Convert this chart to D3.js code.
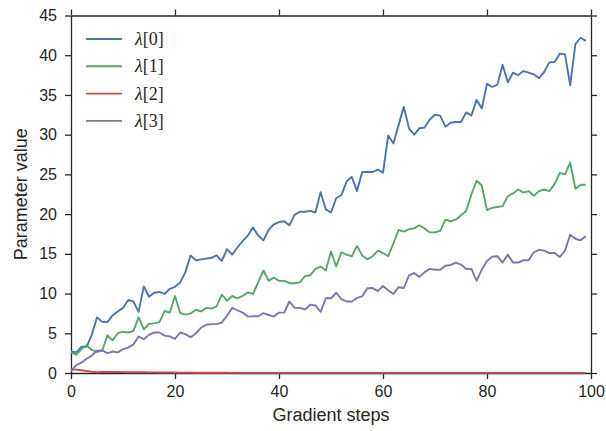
<!DOCTYPE html>
<html>
<head>
<meta charset="utf-8">
<script src="https://cdn.jsdelivr.net/npm/d3@7"></script>
<style>
  html, body { margin: 0; padding: 0; background: #ffffff; }
  svg { display: block; }
  text { font-family: "Liberation Sans", Arial, sans-serif; fill: #262626; }
</style>
</head>
<body>
<svg id="chart" width="606" height="431"></svg>
<script>
// Parameter trajectories over 100 gradient steps
const steps = d3.range(100);

const lambda0 = [
  2.7, 2.6, 3.3, 3.3, 4.8, 7.0, 6.45, 6.4, 7.25, 7.75,
  8.2, 9.2, 9.0, 7.7, 10.9, 9.6, 10.1, 10.2, 9.95, 10.6,
  10.85, 11.4, 12.7, 14.8, 14.2, 14.3, 14.4, 14.5, 14.8, 14.1,
  15.6, 14.9, 15.8, 16.6, 17.3, 18.3, 17.3, 16.7, 18.0, 18.7,
  19.0, 19.1, 18.6, 19.9, 20.3, 20.3, 20.4, 20.2, 22.75, 20.6,
  20.2, 22.0, 22.4, 24.1, 24.7, 22.9, 25.3, 25.3, 25.3, 25.6,
  25.2, 29.9, 28.9, 31.2, 33.5, 30.8, 30.0, 30.8, 30.9, 31.9,
  32.5, 32.4, 31.0, 31.5, 31.6, 31.6, 32.8, 32.4, 34.4, 33.3,
  36.4, 36.0, 36.3, 38.8, 36.6, 37.8, 37.5, 38.0, 37.8, 37.6,
  37.1, 37.9, 39.1, 39.15, 40.2, 40.1, 36.2, 41.4, 42.2, 41.8
];

const lambda1 = [
  2.6, 2.3, 3.0, 3.5, 2.9, 2.65, 2.8, 4.75, 4.1, 5.0,
  5.2, 5.1, 5.3, 7.0, 5.5, 6.2, 6.25, 6.4, 7.8, 7.6,
  9.7, 7.55, 7.35, 7.5, 7.96, 7.75, 8.2, 8.1, 8.4, 9.86,
  9.1, 9.7, 9.4, 9.7, 10.15, 9.95, 11.4, 12.9, 11.6, 12.0,
  11.6, 11.6, 11.3, 11.3, 11.4, 12.2, 12.3, 13.1, 13.4, 12.9,
  15.3, 13.4, 15.2, 14.9, 14.7, 16.0, 14.8, 14.3, 14.7, 15.4,
  15.1, 14.7, 16.3, 18.0, 17.8, 18.1, 18.2, 18.6, 18.2, 17.7,
  17.7, 17.9, 19.3, 19.1, 19.3, 19.85, 20.4, 22.5, 24.2, 23.6,
  20.5, 20.8, 20.9, 21.0, 22.25, 22.6, 23.1, 22.7, 22.9, 22.3,
  22.9, 23.1, 22.9, 23.8, 25.2, 25.0, 26.5, 23.2, 23.7, 23.7
];

const lambda2 = [
  0.45, 0.42, 0.35, 0.25, 0.15, 0.1, 0.12, 0.13, 0.12, 0.12,
  0.11, 0.1, 0.1, 0.09, 0.09, 0.08, 0.08, 0.07, 0.07, 0.06,
  0.06, 0.05, 0.05, 0.05, 0.04, 0.04, 0.04, 0.03, 0.03, 0.03,
  0.03, 0.02, 0.02, 0.02, 0.02, 0.02, 0.02, 0.01, 0.01, 0.01,
  0.01, 0.01, 0.01, 0.01, 0.01, 0.01, 0.01, 0.01, 0.01, 0.01,
  0.01, 0.01, 0.01, 0.01, 0.01, 0.01, 0.01, 0.01, 0.01, 0.01,
  0.01, 0.01, 0.01, 0.01, 0.01, 0.01, 0.01, 0.01, 0.01, 0.01,
  0.01, 0.01, 0.01, 0.01, 0.01, 0.01, 0.01, 0.01, 0.01, 0.01,
  0.01, 0.01, 0.01, 0.01, 0.01, 0.01, 0.01, 0.01, 0.01, 0.01,
  0.01, 0.01, 0.01, 0.01, 0.01, 0.01, 0.01, 0.01, 0.01, 0.01
];

const lambda3 = [
  0.25, 1.0, 1.3, 1.8, 2.2, 2.8, 2.85, 2.5, 2.7, 2.6,
  3.0, 3.2, 3.6, 4.6, 4.25, 4.8, 5.1, 5.1, 4.7, 4.6,
  4.3, 5.1, 4.9, 4.5, 4.97, 5.7, 6.07, 6.15, 6.15, 6.36,
  7.2, 8.2, 7.9, 7.6, 7.1, 7.15, 7.15, 7.55, 7.3, 7.1,
  7.6, 7.6, 9.0, 8.2, 8.2, 8.0, 8.6, 8.5, 7.7, 9.4,
  9.4, 10.1, 9.3, 9.0, 9.0, 9.45, 9.65, 10.66, 10.7, 10.3,
  10.95, 10.4, 9.95, 10.8, 10.7, 12.3, 12.6, 12.1, 12.7, 13.1,
  13.0, 13.0, 13.5, 13.6, 13.9, 13.65, 13.1, 13.1, 11.6, 13.0,
  14.1, 14.65, 14.7, 13.9, 14.9, 13.9, 13.9, 14.2, 14.2, 15.2,
  15.5, 15.4, 15.1, 15.1, 14.6, 15.4, 17.4, 16.9, 16.7, 17.2
];

const seriesNames = ["[0]", "[1]", "[2]", "[3]"];
const seriesValues = [lambda0, lambda1, lambda2, lambda3];
const seriesColors = ["#4C72B0", "#55A868", "#C44E52", "#8172B2"];

const xTicks = [0, 20, 40, 60, 80, 100];
const yTicks = [0, 5, 10, 15, 20, 25, 30, 35, 40, 45];

const svg = d3.select("#chart");
const plotLeft = 71, plotRight = 591, plotTop = 15.5, plotBottom = 373;

const x = d3.scaleLinear().domain([0, 100]).range([plotLeft, plotRight]);
const y = d3.scaleLinear().domain([0, 45]).range([plotBottom, plotTop]);

const axisColor = "#262626";
const tickLen = 6;

// Axes on all four sides, ticks pointing outward
const axes = [
  { gen: d3.axisBottom(x).tickValues(xTicks).tickFormat(d3.format("d")), pos: `translate(0,${plotBottom})`, labels: true, pad: 7 },
  { gen: d3.axisTop(x).tickValues(xTicks), pos: `translate(0,${plotTop})`, labels: false, pad: 6 },
  { gen: d3.axisLeft(y).tickValues(yTicks).tickFormat(d3.format("d")), pos: `translate(${plotLeft},0)`, labels: true, pad: 8 },
  { gen: d3.axisRight(y).tickValues(yTicks), pos: `translate(${plotRight},0)`, labels: false, pad: 6 }
];

axes.forEach(a => {
  const g = svg.append("g")
    .attr("transform", a.pos)
    .call(a.gen.tickSizeInner(tickLen).tickSizeOuter(0).tickPadding(a.pad));
  g.select(".domain").attr("stroke", axisColor).attr("stroke-width", 1.3);
  g.selectAll(".tick line").attr("stroke", axisColor).attr("stroke-width", 1.3);
  if (a.labels) {
    g.selectAll(".tick text")
      .style("font-family", '"Liberation Sans", Arial, sans-serif')
      .style("font-size", "16px")
      .attr("fill", axisColor);
  } else {
    g.selectAll(".tick text").remove();
  }
});

// Series lines
const line = d3.line()
  .x((d, i) => x(steps[i]))
  .y(d => y(d));

const plot = svg.append("g");
seriesValues.forEach((vals, k) => {
  plot.append("path")
    .datum(vals)
    .attr("d", line)
    .attr("fill", "none")
    .attr("stroke", seriesColors[k])
    .attr("stroke-width", 1.9)
    .attr("stroke-linejoin", "round")
    .attr("stroke-linecap", "butt");
});

// Axis titles
svg.append("text")
  .attr("x", (plotLeft + plotRight) / 2)
  .attr("y", 421)
  .attr("text-anchor", "middle")
  .style("font-size", "18px")
  .text("Gradient steps");

svg.append("text")
  .attr("transform", `translate(27,${(plotTop + plotBottom) / 2}) rotate(-90)`)
  .attr("text-anchor", "middle")
  .style("font-size", "18px")
  .text("Parameter value");

// Legend
const legend = svg.append("g");
seriesNames.forEach((name, k) => {
  const ly = 39 + k * 27.3;
  legend.append("line")
    .attr("x1", 86).attr("x2", 122)
    .attr("y1", ly).attr("y2", ly)
    .attr("stroke", seriesColors[k])
    .attr("stroke-width", 1.9);
  const t = legend.append("text")
    .attr("x", 135)
    .attr("y", ly + 6)
    .style("font-family", '"Liberation Serif", "DejaVu Serif", serif')
    .style("font-size", "18px");
  t.append("tspan").style("font-style", "italic").text("λ");
  t.append("tspan").text(name);
});
</script>
</body>
</html>
